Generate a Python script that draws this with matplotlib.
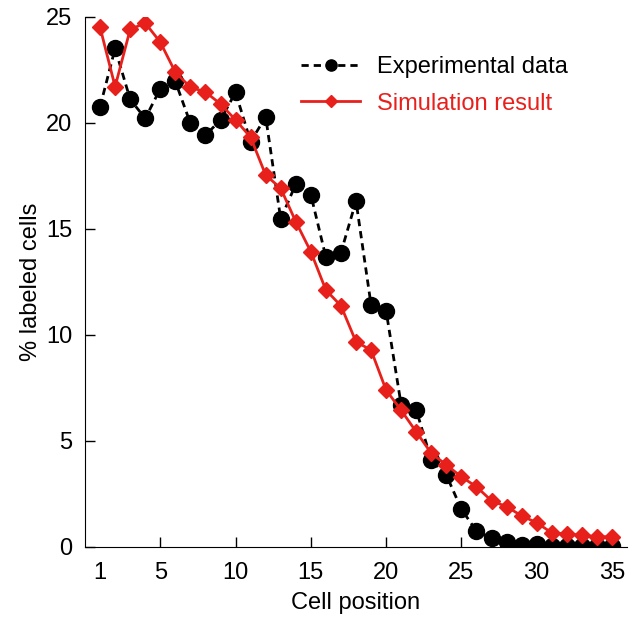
import matplotlib
matplotlib.use('Agg')
import matplotlib.pyplot as plt

plt.rcParams['font.family'] = ['Liberation Sans', 'DejaVu Sans']

# cell positions 1..35
position = list(range(1, 36))

experimental = [20.75, 23.5, 21.1, 20.2, 21.6, 21.95, 19.97, 19.4, 20.13, 21.43,
                19.1, 20.27, 15.45, 17.1, 16.6, 13.65, 13.87, 16.3, 11.4, 11.12,
                6.68, 6.45, 4.08, 3.37, 1.76, 0.73, 0.39, 0.2, 0.07, 0.12,
                0.02, 0.02, 0.02, 0.02, 0.02]

# simulation result
simulation = [24.5, 21.7, 24.4, 24.7, 23.8, 22.38, 21.67, 21.45, 20.88, 20.13,
              19.31, 17.53, 16.9, 15.33, 13.91, 12.1, 11.36, 9.66, 9.27, 7.38,
              6.43, 5.41, 4.4, 3.85, 3.29, 2.82, 2.16, 1.88, 1.45, 1.12,
              0.65, 0.59, 0.54, 0.46, 0.46]

xticks = [1, 5, 10, 15, 20, 25, 30, 35]
yticks = [0, 5, 10, 15, 20, 25]

fig = plt.figure(figsize=(6.36, 6.17), dpi=100)
ax = fig.add_axes([85 / 636, 1 - 546.5 / 617, (627 - 85) / 636, (546.5 - 16.7) / 617])

ax.plot(position, experimental, color='black', linestyle=(0, (2.6, 1.8)), linewidth=2.0,
        marker='o', markersize=11.5, label='Experimental data', zorder=2)
ax.plot(position, simulation, color='#e8201c', linewidth=2.0,
        marker='D', markersize=8.5, label='Simulation result', zorder=3)

ax.set_xlim(0, 36)
ax.set_ylim(0, 25)
ax.set_xticks(xticks)
ax.set_yticks(yticks)
ax.tick_params(direction='in', length=7, width=1, labelsize=17)
ax.tick_params(axis='x', pad=11)
ax.tick_params(axis='y', pad=9)
ax.xaxis.get_major_ticks()[0].tick1line.set_visible(False)
ax.spines['top'].set_visible(False)
ax.spines['right'].set_visible(False)

ax.set_xlabel('Cell position', fontsize=17, labelpad=6)
ax.set_ylabel('% labeled cells', fontsize=17, labelpad=3)

leg = ax.legend(loc='upper right', bbox_to_anchor=(0.93, 0.965), frameon=False,
                fontsize=17, handlelength=2.5, handletextpad=0.7,
                markerscale=0.7, labelspacing=0.6)
for txt, h in zip(leg.get_texts(), leg.get_lines()):
    txt.set_color(h.get_color())

fig.savefig('out.png', dpi=100)
